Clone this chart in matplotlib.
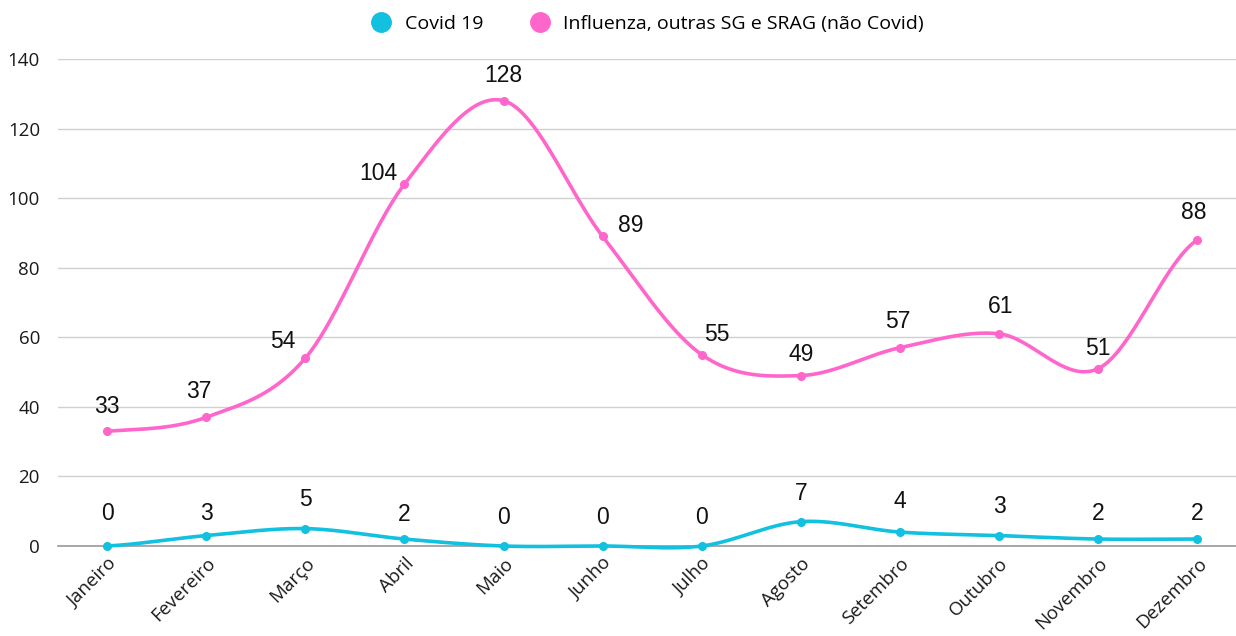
import numpy as np
import matplotlib
matplotlib.use("Agg")
import matplotlib.pyplot as plt
from matplotlib.lines import Line2D

meses = ["Janeiro", "Fevereiro", "Março", "Abril", "Maio", "Junho", "Julho",
         "Agosto", "Setembro", "Outubro", "Novembro", "Dezembro"]
covid = [0, 3, 5, 2, 0, 0, 0, 7, 4, 3, 2, 2]
influenza = [33, 37, 54, 104, 128, 89, 55, 49, 57, 61, 51, 88]

COR_COVID = "#12C0E0"
COR_INFL = "#FF66CC"

# label offsets in pixels (dx, dy)
off_covid = [(0, 32), (0, 22), (0, 29), (0, 25), (0, 29), (0, 29), (0, 29),
             (0, 28), (0, 31), (0, 29), (0, 26), (0, 26)]
off_infl = [(0, 25), (-7, 26), (-23, 17), (-26, 11), (0, 25), (28, 11), (15, 20),
            (0, 21), (-2, 26), (2, 27), (0, 20), (-4, 27)]


def suave(x, y, n=40):
    # catmull-rom spline through the points
    x = np.asarray(x, float)
    y = np.asarray(y, float)
    px = np.concatenate([[2 * x[0] - x[1]], x, [2 * x[-1] - x[-2]]])
    py = np.concatenate([[y[0]], y, [y[-1]]])
    xs, ys = [], []
    t = np.linspace(0, 1, n)
    for i in range(1, len(px) - 2):
        for p, out in ((px, xs), (py, ys)):
            p0, p1, p2, p3 = p[i - 1], p[i], p[i + 1], p[i + 2]
            out.append(0.5 * ((2 * p1) + (-p0 + p2) * t
                              + (2 * p0 - 5 * p1 + 4 * p2 - p3) * t ** 2
                              + (-p0 + 3 * p1 - 3 * p2 + p3) * t ** 3))
    return np.concatenate(xs), np.concatenate(ys)


plt.rcParams["font.family"] = ["Open Sans", "DejaVu Sans"]
fig = plt.figure(figsize=(12.36, 6.36), dpi=100)
ax = fig.add_axes([58 / 1236, 1 - 546 / 636, 1 - 58 / 1236, (546 - 59) / 636])

x = np.arange(len(meses))
for serie, cor, offs in ((influenza, COR_INFL, off_infl), (covid, COR_COVID, off_covid)):
    sx, sy = suave(x, serie)
    ax.plot(sx, sy, color=cor, lw=2.6, solid_capstyle="round", zorder=3, clip_on=False)
    ax.plot(x, serie, "o", color=cor, ms=5.5, zorder=4, clip_on=False)
    for xi, yi, (dx, dy) in zip(x, serie, offs):
        ax.annotate(str(yi), (xi, yi), xytext=(dx * 0.72, dy * 0.72),
                    textcoords="offset points", ha="center", va="center",
                    fontsize=16.5, family=["Liberation Sans"], color="#111111")

ax.set_xlim(-0.495, 11.39)
ax.set_ylim(0, 140)
ax.set_yticks(range(0, 141, 20))
ax.set_xticks(x)
ax.set_xticklabels(meses, rotation=45, ha="right", rotation_mode="anchor")
ax.tick_params(axis="both", length=0, colors="#1a1a1a")
ax.tick_params(axis="x", pad=6, labelsize=13.5)
ax.tick_params(axis="y", pad=13, labelsize=13.5)
ax.grid(axis="y", color="#d0d0d0", lw=1)
ax.set_axisbelow(True)
for s in ("top", "right", "left"):
    ax.spines[s].set_visible(False)
ax.spines["bottom"].set_color("#999999")
ax.spines["bottom"].set_linewidth(1.2)
ax.spines["bottom"].set_zorder(2)

handles = [Line2D([], [], marker="o", ls="", color=COR_COVID, ms=14),
           Line2D([], [], marker="o", ls="", color=COR_INFL, ms=14)]
fig.legend(handles, ["Covid 19", "Influenza, outras SG e SRAG (não Covid)"],
           loc="center", bbox_to_anchor=(0.52, 1 - 24 / 636), ncol=2, frameon=False,
           fontsize=14, handletextpad=0.2, columnspacing=1.9)

fig.savefig("out.png", dpi=100, facecolor="white")
